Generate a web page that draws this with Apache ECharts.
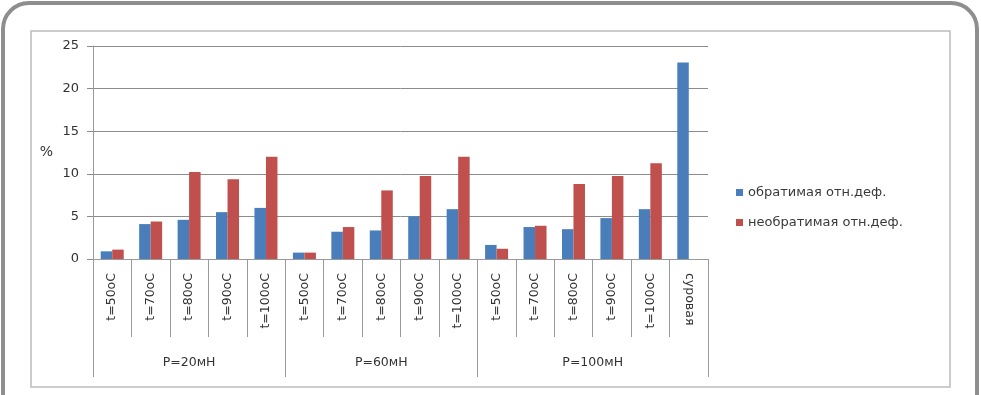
<!DOCTYPE html>
<html><head><meta charset="utf-8">
<script src="https://cdn.jsdelivr.net/npm/echarts@6/dist/echarts.min.js"></script>
<style>html,body{margin:0;padding:0;background:#fff}#c{width:981px;height:395px}</style>
</head><body><div id="c"></div>
<script>
const categories = ['t=50oC','t=70oC','t=80oC','t=90oC','t=100oC','t=50oC','t=70oC','t=80oC','t=90oC','t=100oC','t=50oC','t=70oC','t=80oC','t=90oC','t=100oC','суровая'];
const groupNames = ['P=20мН','P=60мН','P=100мН'];
const groupSizes = [5, 5, 6];
const seriesNames = ['обратимая отн.деф.','необратимая отн.деф.'];
const reversible = [0.9, 4.1, 4.6, 5.5, 6.0, 0.75, 3.2, 3.35, 5.0, 5.85, 1.65, 3.75, 3.5, 4.8, 5.85, 23.05];
const irreversible = [1.1, 4.4, 10.2, 9.35, 12.0, 0.75, 3.75, 8.05, 9.75, 12.0, 1.2, 3.9, 8.8, 9.75, 11.25, null];
const yTicks = [0, 5, 10, 15, 20, 25];

const groupStarts = [];
const groupCenters = [];
let acc = 0;
groupSizes.forEach(s => { groupStarts.push(acc); groupCenters.push(acc + s / 2); acc += s; });

const FONT = 'DejaVu Sans';
const chart = echarts.init(document.getElementById('c'));
chart.setOption({
  animation: false,
  backgroundColor: '#fff',
  textStyle: { fontFamily: FONT },
  graphic: [
    { type: 'rect', shape: { x: 3, y: 3, width: 974, height: 430, r: 26 }, style: { fill: '#fff', stroke: '#8e8e8e', lineWidth: 4 }, z: -10 },
    { type: 'rect', shape: { x: 31, y: 31, width: 919, height: 356 }, style: { fill: '#fff', stroke: '#bcbcbc', lineWidth: 1.5 }, z: -9 }
  ],
  legend: {
    orient: 'vertical', left: 736, top: 186, padding: 0,
    itemWidth: 7, itemHeight: 7, itemGap: 17, icon: 'rect',
    textStyle: { fontFamily: FONT, fontSize: 13, color: '#3a3a3a' },
    data: seriesNames
  },
  grid: { left: 93, right: 273, top: 46, bottom: 136, containLabel: false, outerBoundsMode: 'none' },
  xAxis: [
    {
      type: 'category', data: categories, position: 'bottom',
      axisLine: { show: true, lineStyle: { color: '#9a9a9a', width: 1 } },
      axisTick: { show: true, interval: 0, length: 78, lineStyle: { color: '#9a9a9a' } },
      axisLabel: { interval: i => i !== categories.length - 1, rotate: 90, margin: 14, fontFamily: FONT, fontSize: 12.5, color: '#333' },
      splitLine: { show: false }
    },
    {
      type: 'category', data: categories, position: 'bottom',
      axisLine: { show: false },
      axisTick: { show: true, interval: i => groupStarts.indexOf(i) >= 0, length: 118, lineStyle: { color: '#9a9a9a' } },
      axisLabel: { show: false },
      splitLine: { show: false }
    },
    {
      type: 'value', min: 0, max: categories.length, interval: 0.5, position: 'bottom',
      axisLine: { show: false }, axisTick: { show: false }, splitLine: { show: false },
      axisLabel: {
        margin: 97, fontFamily: FONT, fontSize: 12.5, color: '#333', showMinLabel: true, showMaxLabel: true,
        formatter: v => { const k = groupCenters.findIndex(c => Math.abs(c - v) < 1e-6); return k >= 0 ? groupNames[k] : ''; }
      }
    },
    {
      type: 'category', data: categories, position: 'bottom',
      axisLine: { show: false }, axisTick: { show: false }, splitLine: { show: false },
      axisLabel: { interval: i => i === categories.length - 1, rotate: -90, margin: 14, fontFamily: FONT, fontSize: 12.5, color: '#333' }
    }
  ],
  yAxis: {
    type: 'value', min: yTicks[0], max: yTicks[yTicks.length - 1], interval: 5,
    name: '%', nameLocation: 'middle', nameRotate: 0, nameGap: 40,
    nameTextStyle: { fontFamily: FONT, fontSize: 14, color: '#333', padding: [0, 0, 28, 0] },
    axisLine: { show: true, lineStyle: { color: '#9a9a9a' } },
    axisTick: { show: true, length: 6, lineStyle: { color: '#8c8c8c' } },
    axisLabel: { margin: 14, fontFamily: FONT, fontSize: 13, color: '#333' },
    splitLine: { show: true, lineStyle: { color: '#8c8c8c', width: 1 } }
  },
  series: [
    { name: seriesNames[0], type: 'bar', data: reversible, barWidth: 11.5, barGap: '0%', itemStyle: { color: '#4a7ebb' } },
    { name: seriesNames[1], type: 'bar', data: irreversible, barWidth: 11.5, barGap: '0%', itemStyle: { color: '#c0504d' } }
  ]
});
</script></body></html>
